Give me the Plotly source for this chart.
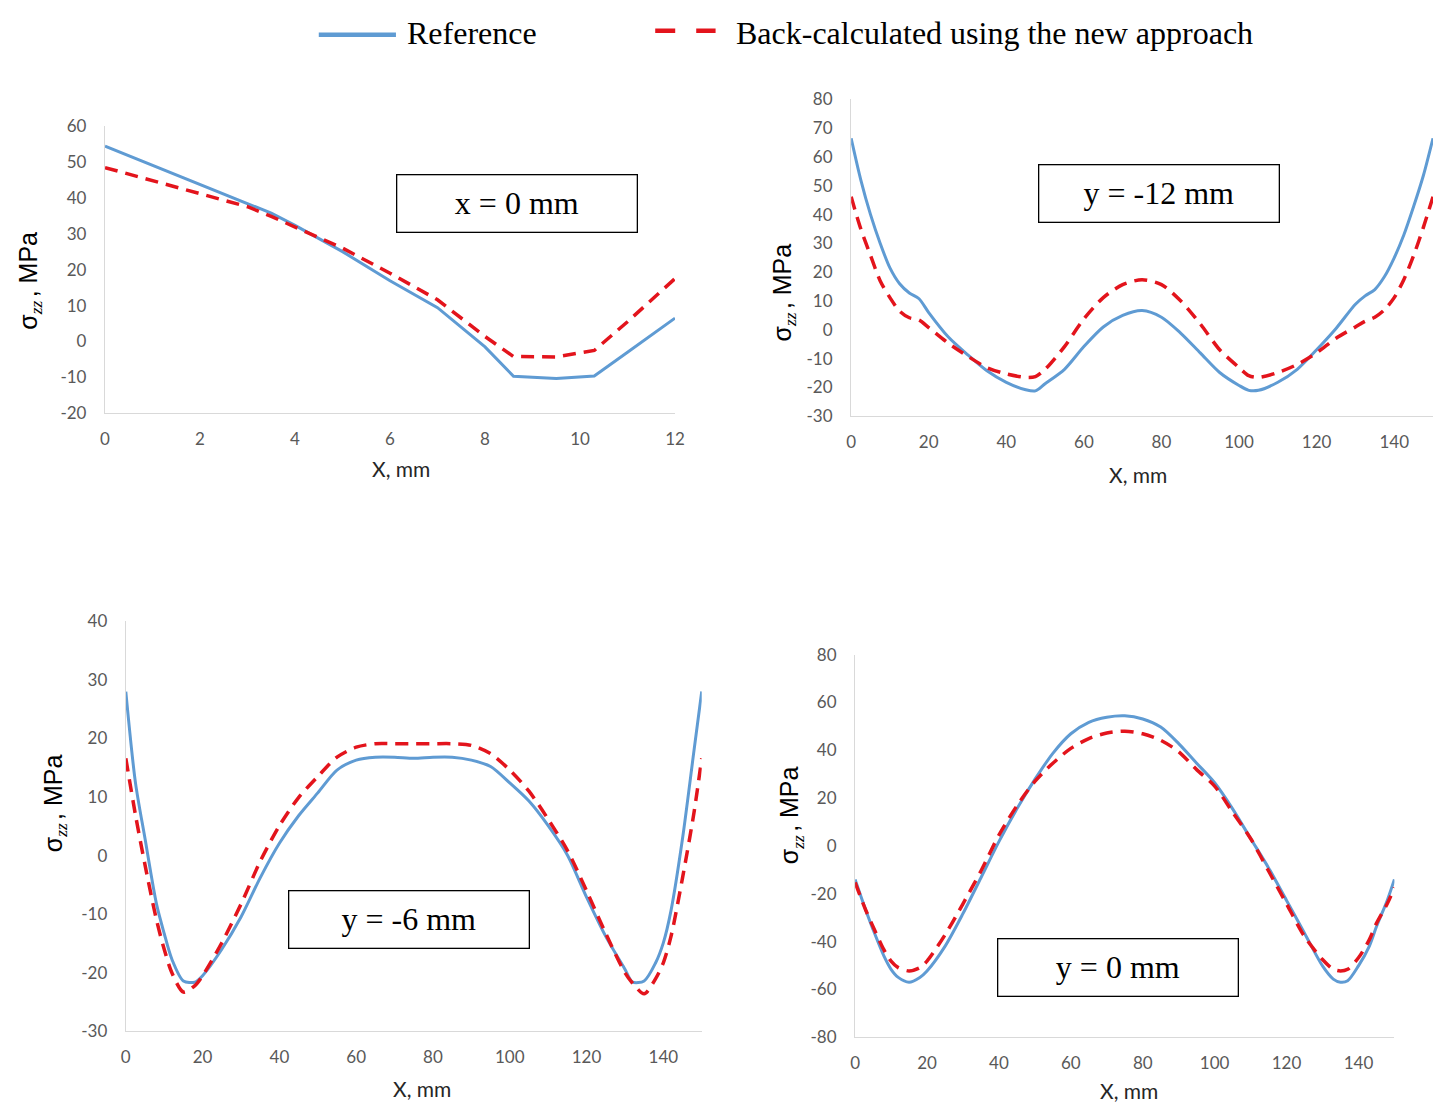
import plotly.graph_objects as go

# The page keeps the browser's default 8px body margin, so the figure is 16px smaller
# than the 1451x1116 window and all reference pixel positions are shifted by 8px.
PAGE_W, PAGE_H, BODY_MARGIN = 1451, 1116, 8
W, H = PAGE_W - 2 * BODY_MARGIN, PAGE_H - 2 * BODY_MARGIN

# ---------------- data ----------------
# Panel 1: x = 0 mm (horizontal axis 0..12 mm)
p1_x = [0, 1, 2, 3, 3.5, 4, 5, 6, 7, 8, 8.6, 9.5, 10.3, 11, 12]
p1_ref = [54.4, 49.1, 43.7, 38.4, 35.7, 32.3, 25.0, 16.9, 9.4, -1.5, -9.7, -10.3, -9.6, -3.0, 6.5]
p1_new = [48.4, 44.8, 41.2, 37.5, 34.8, 31.8, 26.0, 19.0, 11.6, 1.4, -4.2, -4.3, -2.5, 5.5, 17.5]

# Panel 2: y = -12 mm
p2_x = [0, 2.5, 5, 7.5, 10, 12.5, 15, 17.5, 20, 25, 30, 35, 40, 45, 47.5, 50, 55, 60, 65, 70,
        75, 80, 85, 90, 95, 100, 102.5, 105, 110, 115, 120, 125, 130, 132.5, 135, 137.5, 140,
        142.5, 145, 147.5, 150]
p2_ref = [66.5, 52.0, 40.0, 30.0, 21.5, 16.0, 12.8, 10.8, 6.0, -2.4, -8.6, -14.2, -18.2, -20.8, -21.2,
          -18.7, -13.7, -5.8, 1.0, 5.0, 6.7, 4.4, -1.2, -8.0, -14.8, -19.3, -21.0, -21.0, -18.2,
          -13.7, -6.9, 0.5, 8.9, 11.8, 14.0, 18.5, 25.0, 33.0, 42.8, 53.5, 66.5]
p2_new = [46.2, 35.0, 25.8, 17.0, 11.2, 6.5, 4.2, 3.4, 0.8, -4.6, -9.1, -13.1, -15.3, -16.5, -16.2,
          -13.7, -5.8, 3.8, 11.2, 15.7, 17.4, 15.7, 10.0, 2.1, -6.9, -13.1, -15.9, -16.5, -14.8,
          -12.0, -8.0, -2.9, 1.0, 3.0, 4.4, 7.0, 11.2, 17.5, 25.8, 35.5, 46.2]

# Panel 3: y = -6 mm
p3_x = [0, 2.5, 5, 8, 10, 12, 15, 18, 20, 25, 30, 35, 40, 45, 50, 55, 60, 65, 70, 75, 80, 85,
        90, 95, 100, 105, 110, 115, 120, 125, 130, 132, 135, 138, 140, 142, 145, 148, 150]
p3_ref = [28.0, 12.5, 2.9, -8.3, -13.3, -17.7, -21.4, -21.6, -20.5, -16.0, -10.5, -3.8, 2.1, 6.8,
          10.7, 14.6, 16.3, 16.8, 16.8, 16.6, 16.8, 16.8, 16.3, 15.2, 12.4, 9.3, 5.1, 0.1, -7.1,
          -13.8, -19.4, -21.6, -21.4, -18.3, -14.9, -9.4, 2.9, 18.0, 28.0]
p3_new = [16.6, 7.0, -1.6, -11.0, -16.0, -20.0, -23.3, -22.2, -20.5, -14.9, -8.3, -1.0, 5.1, 9.9,
          13.5, 16.8, 18.5, 19.1, 19.1, 19.1, 19.1, 19.1, 18.8, 17.4, 14.6, 11.0, 6.2, 0.9, -6.0,
          -13.3, -20.0, -21.8, -23.6, -21.0, -18.3, -13.8, -3.8, 7.4, 16.6]

# Panel 4: y = 0 mm
p4_x = [0, 3, 5, 8, 10, 12, 15, 18, 20, 25, 30, 35, 40, 45, 50, 55, 60, 65, 70, 75, 80, 85,
        90, 95, 100, 105, 110, 115, 120, 125, 130, 133, 135, 137, 140, 143, 145, 148, 150]
p4_ref = [-14.0, -27.0, -35.0, -46.0, -51.6, -55.0, -57.0, -55.0, -52.3, -42.0, -28.3, -13.3, 1.8,
          15.5, 27.8, 38.7, 46.9, 51.7, 53.8, 54.4, 53.1, 49.7, 42.8, 34.6, 26.4, 15.5, 3.1, -9.2,
          -22.8, -36.5, -50.2, -55.7, -57.0, -56.4, -50.2, -42.0, -33.8, -22.8, -14.0]
p4_new = [-15.3, -27.0, -33.8, -43.4, -48.2, -50.9, -52.3, -50.9, -48.2, -37.2, -24.2, -10.5, 4.5,
          16.8, 27.0, 34.6, 40.8, 44.9, 47.2, 48.0, 46.9, 44.2, 39.4, 31.9, 25.0, 14.1, 3.1, -10.5,
          -24.2, -37.9, -47.5, -51.6, -52.3, -51.6, -46.8, -39.3, -32.4, -24.2, -17.4]

# tick values / labels (hyphen minus, as in the reference)
x_ticks_12 = [0, 2, 4, 6, 8, 10, 12]
x_ticks_150 = [0, 20, 40, 60, 80, 100, 120, 140]
y_ticks_p1 = [-20, -10, 0, 10, 20, 30, 40, 50, 60]
y_ticks_p2 = [-30, -20, -10, 0, 10, 20, 30, 40, 50, 60, 70, 80]
y_ticks_p3 = [-30, -20, -10, 0, 10, 20, 30, 40]
y_ticks_p4 = [-80, -60, -40, -20, 0, 20, 40, 60, 80]

panel_labels = ["x = 0 mm", "y = -12 mm", "y = -6 mm", "y = 0 mm"]
series_names = ["Reference", "Back-calculated using the new approach"]
x_title = "X, mm"
y_title = ("σ<sub><span style='font-family:Liberation Serif'><i>zz</i></span></sub>"
           "<span style='font-size:12px'> </span>, MPa")

# ---------------- style / layout ----------------
BLUE = "#5f9bd3"
RED = "#e3141c"
AXIS = "#d9d9d9"
TICK = "#595959"

def px(x):
    return (x - BODY_MARGIN) / W

def py(y):
    return 1 - (y - BODY_MARGIN) / H

def lab(v):
    return str(v)

# plot-area pixel boxes in the reference image: (left, right, top, bottom)
boxes = [(101, 677, 117, 410), (855, 1443, 90, 413), (122, 704, 622, 1040), (859, 1404, 656, 1046)]
xranges = [[0, 12], [0, 150], [0, 150], [0, 150]]
yranges = [[-20, 60], [-30, 80], [-30, 40], [-80, 80]]
xticks = [x_ticks_12, x_ticks_150, x_ticks_150, x_ticks_150]
yticks = [y_ticks_p1, y_ticks_p2, y_ticks_p3, y_ticks_p4]
label_boxes = [(517.5, 196), (1166.5, 186), (408.5, 926), (1124.5, 975)]
xtitle_pos = [(400, 466), (1145, 472), (421, 1098), (1136, 1100)]
ytitle_pos = [(25, 275), (787, 287), (50, 808), (795, 820)]

data = [(p1_x, p1_ref, p1_new), (p2_x, p2_ref, p2_new), (p3_x, p3_ref, p3_new), (p4_x, p4_ref, p4_new)]

fig = go.Figure()
layout = dict(
    width=W, height=H,
    margin=dict(l=0, r=0, t=0, b=0),
    paper_bgcolor="white", plot_bgcolor="white",
    showlegend=False,
)

tickfont = dict(family="Lato", size=17, color=TICK)
annotations = []
shapes = []
for i, ((xs, r, n), (l, rr, t, b)) in enumerate(zip(data, boxes)):
    k = "" if i == 0 else str(i + 1)
    xa, ya = "x" + k, "y" + k
    shape = "linear" if i == 0 else "spline"
    fig.add_trace(go.Scatter(x=xs, y=r, mode="lines", name=series_names[0], xaxis=xa, yaxis=ya,
                             line=dict(color=BLUE, width=3, shape=shape, smoothing=0.8)))
    fig.add_trace(go.Scatter(x=xs, y=n, mode="lines", name=series_names[1], xaxis=xa, yaxis=ya,
                             line=dict(color=RED, width=3.5, dash="13px,8px", shape=shape, smoothing=0.8)))
    layout["xaxis" + k] = dict(
        domain=[px(l), px(rr)], anchor=ya, range=xranges[i],
        tickmode="array", tickvals=xticks[i], ticktext=[lab(v) for v in xticks[i]],
        showline=True, linecolor=AXIS, linewidth=1.3, showgrid=False, zeroline=False,
        ticks="", tickfont=tickfont, ticklabelstandoff=10,
    )
    layout["yaxis" + k] = dict(
        domain=[py(b), py(t)], anchor=xa, range=yranges[i],
        tickmode="array", tickvals=yticks[i], ticktext=[lab(v) for v in yticks[i]],
        showline=True, linecolor=AXIS, linewidth=1.3, showgrid=False, zeroline=False,
        ticks="", tickfont=tickfont, ticklabelstandoff=14,
    )
    cx, cy = label_boxes[i]
    annotations.append(dict(
        x=px(cx), y=py(cy), xref="paper", yref="paper", text=panel_labels[i], showarrow=False,
        font=dict(family="Liberation Serif", size=32, color="black"),
        width=237, height=54, bordercolor="black", borderwidth=1.3, bgcolor="white",
        xanchor="center", yanchor="middle",
    ))
    tx, ty = xtitle_pos[i]
    annotations.append(dict(
        x=px(tx), y=py(ty), xref="paper", yref="paper", text=x_title, showarrow=False,
        font=dict(family="Lato", size=21, color="#262626"), xanchor="center", yanchor="middle",
    ))
    yx, yy = ytitle_pos[i]
    annotations.append(dict(
        x=px(yx), y=py(yy), xref="paper", yref="paper", text=y_title, showarrow=False, textangle=-90,
        font=dict(family="Liberation Sans", size=25, color="black"), xanchor="center", yanchor="middle",
    ))

# legend (top)
shapes.append(dict(type="line", xref="paper", yref="paper", x0=px(317), x1=px(395), y0=py(24), y1=py(24),
                   line=dict(color=BLUE, width=4.5)))
shapes.append(dict(type="line", xref="paper", yref="paper", x0=px(657), x1=px(718), y0=py(20), y1=py(20),
                   line=dict(color=RED, width=4.5, dash="20px,21px")))
annotations.append(dict(x=px(404), y=py(22), xref="paper", yref="paper", text=series_names[0], showarrow=False,
                        font=dict(family="Liberation Serif", size=32, color="black"), xanchor="left", yanchor="middle"))
annotations.append(dict(x=px(737), y=py(22), xref="paper", yref="paper", text=series_names[1], showarrow=False,
                        font=dict(family="Liberation Serif", size=32, color="black"), xanchor="left", yanchor="middle"))

layout["annotations"] = annotations
layout["shapes"] = shapes
fig.update_layout(**layout)
fig.write_html("out.html", config={"displayModeBar": False})
